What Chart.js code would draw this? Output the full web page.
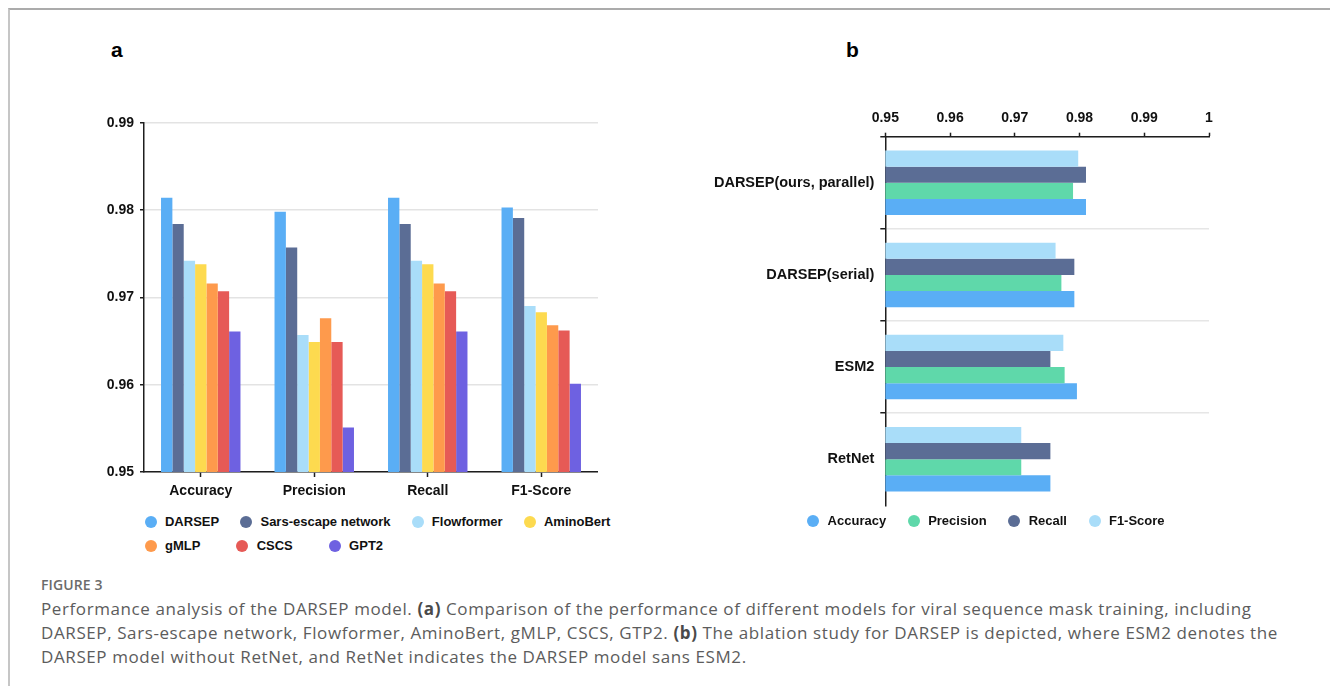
<!DOCTYPE html>
<html>
<head>
<meta charset="utf-8">
<script src="https://cdn.jsdelivr.net/npm/chart.js@4.4.1/dist/chart.umd.min.js"></script>
<style>
  html, body { margin: 0; padding: 0; background: #fff; width: 1330px; height: 686px; overflow: hidden; }
  #frame { position: absolute; left: 8px; top: 8px; width: 1322px; height: 678px;
           border-top: 2px solid #ababab; border-left: 2px solid #c6c6c6; box-sizing: border-box; }
  .panel { position: absolute; font-family: "Liberation Sans", Arial, sans-serif; font-weight: bold;
           font-size: 21px; line-height: 21px; color: #000; }
  canvas { position: absolute; }
  .legend { position: absolute; font-family: "Liberation Sans", Arial, sans-serif; font-weight: bold;
            font-size: 13px; color: #111; }
  .legend .row { display: flex; align-items: center; height: 24px; white-space: nowrap; }
  .legend .item { display: flex; align-items: center; }
  .legend .dot { width: 12px; height: 12px; border-radius: 50%; flex: none; }
  .legend .txt { margin-left: 8.3px; line-height: 16px; }
  #figlabel { position: absolute; left: 41px; top: 575px; font-family: "Open Sans", sans-serif;
              font-weight: 600; font-size: 14px; line-height: 20px; color: #6b6b6b; letter-spacing: 0.1px; }
  #caption { position: absolute; left: 41px; top: 597px; font-family: "Open Sans", sans-serif;
             font-weight: 400; font-size: 17px; line-height: 24px; color: #5c5c5c; white-space: nowrap;
             letter-spacing: 0.6px; }
  #caption b { font-weight: 700; color: #4a4a4a; }
</style>
</head>
<body>
<div id="frame"></div>
<div class="panel" style="left:111px; top:39px;">a</div>
<div class="panel" style="left:846px; top:39px;">b</div>
<canvas id="chartA" width="538" height="410" style="left:60px; top:100px; width:538px; height:410px;"></canvas>
<canvas id="chartB" width="540" height="430" style="left:700px; top:90px; width:540px; height:430px;"></canvas>
<div id="legendA" class="legend" style="left:144.7px; top:509.7px;"></div>
<div id="legendB" class="legend" style="left:807.3px; top:508.7px;"></div>
<div id="figlabel">FIGURE 3</div>
<div id="caption">Performance analysis of the DARSEP model. <b>(a)</b> Comparison of the performance of different models for viral sequence mask training, including<br>DARSEP, Sars-escape network, Flowformer, AminoBert, gMLP, CSCS, GTP2. <b>(b)</b> The ablation study for DARSEP is depicted, where ESM2 denotes the<br>DARSEP model without RetNet, and RetNet indicates the DARSEP model sans ESM2.</div>
<script>
// ---------- Panel a data ----------
const categoriesA = ['Accuracy', 'Precision', 'Recall', 'F1-Score'];
const modelsA = ['DARSEP', 'Sars-escape network', 'Flowformer', 'AminoBert', 'gMLP', 'CSCS', 'GPT2'];
const darsepA     = [0.9814, 0.9798, 0.9814, 0.9803];
const sarsEscapeA = [0.9784, 0.9757, 0.9784, 0.9791];
const flowformerA = [0.9742, 0.9657, 0.9742, 0.9690];
const aminoBertA  = [0.9738, 0.9649, 0.9738, 0.9683];
const gmlpA       = [0.9716, 0.9676, 0.9716, 0.9668];
const cscsA       = [0.9707, 0.9649, 0.9707, 0.9662];
const gpt2A       = [0.9661, 0.9551, 0.9661, 0.9601];
const yTicksA = ['0.95', '0.96', '0.97', '0.98', '0.99'];

// ---------- Panel b data ----------
const categoriesB = ['DARSEP(ours, parallel)', 'DARSEP(serial)', 'ESM2', 'RetNet'];
const metricsB = ['Accuracy', 'Precision', 'Recall', 'F1-Score'];
const accuracyB  = [0.9810, 0.9792, 0.9796, 0.9755];
const precisionB = [0.9790, 0.9772, 0.9777, 0.9710];
const recallB    = [0.9810, 0.9792, 0.9755, 0.9755];
const f1B        = [0.9798, 0.9763, 0.9775, 0.9710];
const xTicksB = ['0.95', '0.96', '0.97', '0.98', '0.99', '1'];

// ---------- Colours ----------
const cBlue = '#5aaef5', cSlate = '#5b6d95', cSky = '#a9ddf9', cYellow = '#fdda4f',
      cOrange = '#fe9a4c', cRed = '#e65a56', cPurple = '#6e61e1', cGreen = '#5fd8aa';

const FONT = '"Liberation Sans", Arial, sans-serif';
const AXIS = '#1e1e1e';
const labelFor = (arr) => (v) => {
  const t = arr.find(s => Math.abs(parseFloat(s) - v) < 1e-6);
  return t === undefined ? '' : t;
};

// HTML legend built from the chart's own datasets
function buildLegend(chart, el, rows, gaps, reverse) {
  const items = chart.options.plugins.legend.labels.generateLabels(chart);
  if (reverse) items.reverse();
  el.innerHTML = '';
  rows.forEach((count, r) => {
    const row = document.createElement('div');
    row.className = 'row';
    row.style.columnGap = gaps[r] + 'px';
    items.splice(0, count).forEach(it => {
      const item = document.createElement('div');
      item.className = 'item';
      const dot = document.createElement('span');
      dot.className = 'dot';
      dot.style.background = it.fillStyle;
      const txt = document.createElement('span');
      txt.className = 'txt';
      txt.textContent = it.text;
      item.appendChild(dot); item.appendChild(txt);
      row.appendChild(item);
    });
    el.appendChild(row);
  });
}

// ---------- Chart a ----------
const seriesA = [darsepA, sarsEscapeA, flowformerA, aminoBertA, gmlpA, cscsA, gpt2A];
const colorsA = [cBlue, cSlate, cSky, cYellow, cOrange, cRed, cPurple];

const chartA = new Chart(document.getElementById('chartA'), {
  type: 'bar',
  data: {
    labels: categoriesA,
    datasets: modelsA.map((m, i) => ({
      label: m, data: seriesA[i], backgroundColor: colorsA[i], borderWidth: 0,
      categoryPercentage: 0.7, barPercentage: 1.0
    }))
  },
  options: {
    responsive: false, animation: false, devicePixelRatio: 1,
    layout: { padding: { left: 40, top: 22.7, right: 0, bottom: 0 } },
    scales: {
      x: {
        grid: { offset: false, drawOnChartArea: false, tickLength: 5, tickColor: AXIS, tickWidth: 1.5 },
        border: { color: AXIS, width: 1.5 },
        ticks: { font: { family: FONT, size: 14, weight: 'bold' }, color: '#111', padding: 6, maxRotation: 0 },
        afterFit(s) { s.height = 38; }
      },
      y: {
        min: 0.95, max: 0.99,
        ticks: { stepSize: 0.01, callback: labelFor(yTicksA), font: { family: FONT, size: 14, weight: 'bold' }, color: '#111', padding: 6 },
        grid: { color: '#e3e3e3', lineWidth: 1.5, tickLength: 4, tickColor: AXIS, tickWidth: 1.5 },
        border: { color: AXIS, width: 1.5 },
        afterFit(s) { s.width = 44; }
      }
    },
    plugins: { legend: { display: false }, tooltip: { enabled: false } }
  }
});
buildLegend(chartA, document.getElementById('legendA'), [4, 3], [21, 36], false);

// ---------- Chart b ----------
// datasets listed top-to-bottom inside each group; legend shown reversed
const seriesB = [f1B, recallB, precisionB, accuracyB];
const namesB = [metricsB[3], metricsB[2], metricsB[1], metricsB[0]];
const colorsB = [cSky, cSlate, cGreen, cBlue];

const chartB = new Chart(document.getElementById('chartB'), {
  type: 'bar',
  data: {
    labels: categoriesB,
    datasets: namesB.map((m, i) => ({
      label: m, data: seriesB[i], backgroundColor: colorsB[i], borderWidth: 0,
      categoryPercentage: 0.7, barPercentage: 1.0
    }))
  },
  options: {
    indexAxis: 'y',
    responsive: false, animation: false, devicePixelRatio: 1,
    layout: { padding: { left: 10, top: 0, right: 31, bottom: 0 } },
    scales: {
      x: {
        position: 'top', min: 0.95, max: 1.0,
        ticks: { stepSize: 0.01, callback: labelFor(xTicksB), font: { family: FONT, size: 14, weight: 'bold' }, color: '#111', padding: 6 },
        grid: { drawOnChartArea: false, tickLength: 4, tickColor: AXIS, tickWidth: 1.5 },
        border: { color: AXIS, width: 1.5 },
        afterFit(s) { s.height = 46.7; }
      },
      y: {
        grid: {
          offset: true, lineWidth: 1.5, tickLength: 5, tickWidth: 1.5,
          color: (c) => (c.type === 'tick' ? '#e6e6e6' : 'rgba(0,0,0,0)'),
          tickColor: (c) => (c.type === 'tick' ? AXIS : 'rgba(0,0,0,0)')
        },
        border: { color: AXIS, width: 1.5 },
        ticks: { font: { family: FONT, size: 14.5, weight: 'bold' }, color: '#111', padding: 6 },
        afterFit(s) { s.width = 175.3; }
      }
    },
    plugins: { legend: { display: false }, tooltip: { enabled: false } }
  }
});
buildLegend(chartB, document.getElementById('legendB'), [4], [21.7], true);
</script>
</body>
</html>
